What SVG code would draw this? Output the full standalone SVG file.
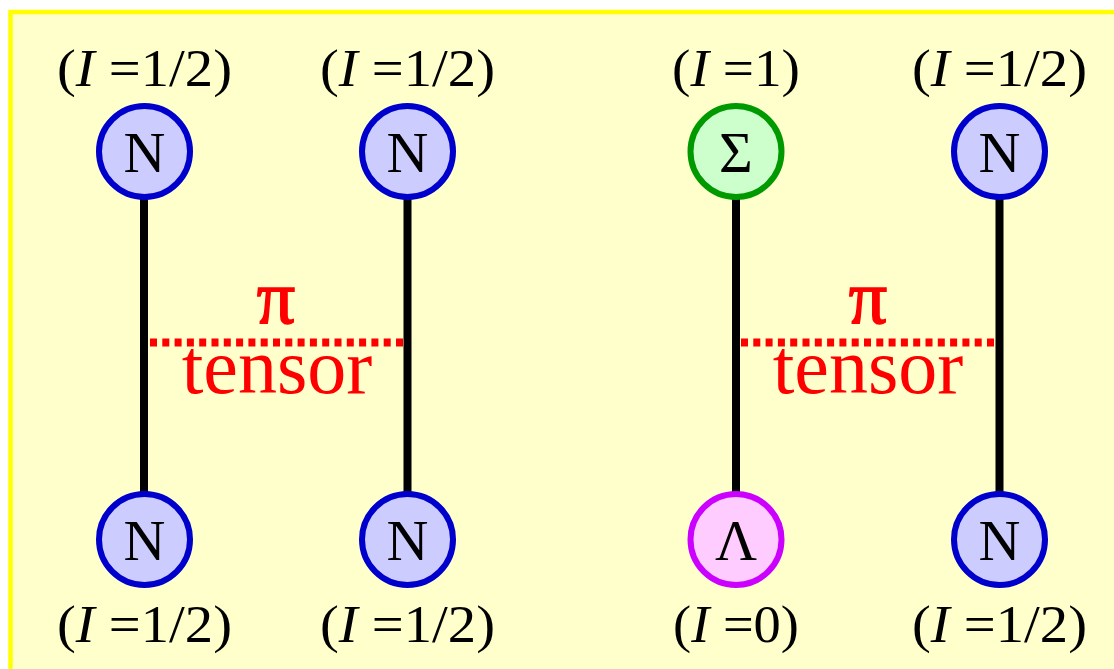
<svg xmlns="http://www.w3.org/2000/svg" width="1114" height="669" viewBox="0 0 1114 669">
<style>
.lbl{font-family:"Liberation Serif","Times New Roman",serif;font-size:52px;fill:#000;text-anchor:middle}
.sym{font-family:"Liberation Serif","Times New Roman",serif;font-size:58px;fill:#000;text-anchor:middle}
.red{font-family:"Liberation Serif","Times New Roman",serif;fill:#ff0000;text-anchor:middle}
.pi{stroke:#ff0000;stroke-width:1.6}
.n circle{fill:#ccccff;stroke:#0000cc;stroke-width:6}
.s circle{fill:#ccffcc;stroke:#009900;stroke-width:6}
.l circle{fill:#ffccff;stroke:#cc00ff;stroke-width:6}
.bar{stroke:#000;stroke-width:8}
.dash{stroke:#ff0000;stroke-width:8;stroke-dasharray:7 5.3}
</style>
<rect x="0" y="0" width="1114" height="669" fill="#ffffff"/>
<rect x="10.5" y="12" width="1120" height="680" fill="#ffffcc" stroke="#ffff00" stroke-width="4.5"/>
<g id="connectors">
<line class="bar" x1="144" y1="198" x2="144" y2="494"/>
<line class="bar" x1="407.5" y1="198" x2="407.5" y2="494"/>
<line class="bar" x1="736" y1="198" x2="736" y2="494"/>
<line class="bar" x1="999.5" y1="198" x2="999.5" y2="494"/>
<line class="dash" x1="150" y1="342.5" x2="403" y2="342.5"/>
<line class="dash" x1="741" y1="342.5" x2="995" y2="342.5"/>
<text class="red pi" x="276" y="323" font-size="76">π</text>
<text class="red" x="277" y="393" font-size="78">tensor</text>
<text class="red pi" x="868" y="323" font-size="76">π</text>
<text class="red" x="868" y="393" font-size="78">tensor</text>
</g>
<g id="n1" class="n"><circle cx="144.5" cy="151.5" r="45.5"/><text class="sym" x="144.5" y="172">N</text><text class="lbl" x="144.5" y="86" textLength="175" lengthAdjust="spacingAndGlyphs">(<tspan font-style="italic">I</tspan> =1/2)</text></g>
<g id="n2" class="n"><circle cx="407.5" cy="151.5" r="45.5"/><text class="sym" x="407.5" y="172">N</text><text class="lbl" x="407.5" y="86" textLength="175" lengthAdjust="spacingAndGlyphs">(<tspan font-style="italic">I</tspan> =1/2)</text></g>
<g id="sigma" class="s"><circle cx="736" cy="151.5" r="45.5"/><text class="sym" x="736" y="172">Σ</text><text class="lbl" x="736" y="86" textLength="128" lengthAdjust="spacingAndGlyphs">(<tspan font-style="italic">I</tspan> =1)</text></g>
<g id="n3" class="n"><circle cx="999.5" cy="151.5" r="45.5"/><text class="sym" x="999.5" y="172">N</text><text class="lbl" x="999.5" y="86" textLength="175" lengthAdjust="spacingAndGlyphs">(<tspan font-style="italic">I</tspan> =1/2)</text></g>
<g id="n4" class="n"><circle cx="144.5" cy="539.5" r="45.5"/><text class="sym" x="144.5" y="560">N</text><text class="lbl" x="144.5" y="642" textLength="175" lengthAdjust="spacingAndGlyphs">(<tspan font-style="italic">I</tspan> =1/2)</text></g>
<g id="n5" class="n"><circle cx="407.5" cy="539.5" r="45.5"/><text class="sym" x="407.5" y="560">N</text><text class="lbl" x="407.5" y="642" textLength="175" lengthAdjust="spacingAndGlyphs">(<tspan font-style="italic">I</tspan> =1/2)</text></g>
<g id="lambda" class="l"><circle cx="736" cy="539.5" r="45.5"/><text class="sym" x="736" y="560">Λ</text><text class="lbl" x="736" y="642" textLength="126" lengthAdjust="spacingAndGlyphs">(<tspan font-style="italic">I</tspan> =0)</text></g>
<g id="n6" class="n"><circle cx="999.5" cy="539.5" r="45.5"/><text class="sym" x="999.5" y="560">N</text><text class="lbl" x="999.5" y="642" textLength="175" lengthAdjust="spacingAndGlyphs">(<tspan font-style="italic">I</tspan> =1/2)</text></g>
</svg>
